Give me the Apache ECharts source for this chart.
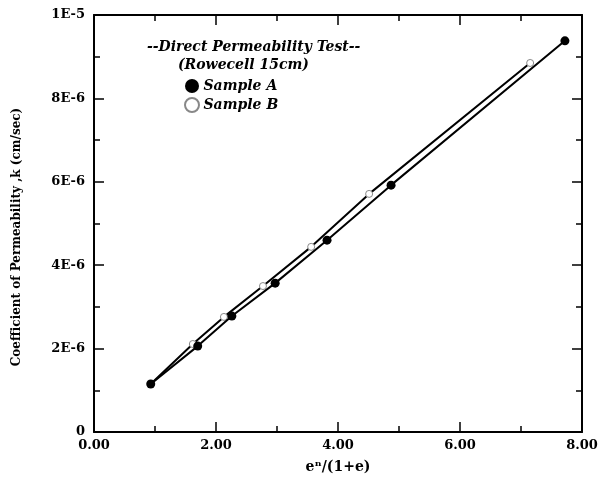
<!DOCTYPE html>
<html>
<head>
<meta charset="utf-8">
<script src="https://cdn.jsdelivr.net/npm/echarts@6/dist/echarts.min.js"></script>
<style>
html,body{margin:0;padding:0;background:#fff;}
#c{width:603px;height:479px;}
</style>
</head>
<body>
<div id="c"></div>
<script>
// x values: e^n/(1+e); y values in units of 1E-6 cm/sec
const xA = [0.93, 1.70, 2.26, 2.97, 3.82, 4.87, 7.72];
const yA = [1.15, 2.06, 2.78, 3.57, 4.60, 5.92, 9.38];
const xB = [0.93, 1.62, 2.13, 2.77, 3.56, 4.51, 7.15];
const yB = [1.15, 2.11, 2.76, 3.50, 4.44, 5.71, 8.85];
const xTickLabels = ['0.00', '2.00', '4.00', '6.00', '8.00'];
const yTickLabels = ['0', '2E-6', '4E-6', '6E-6', '8E-6', '1E-5'];
const legendTitle = ['--Direct Permeability Test--', '(Rowecell 15cm)'];
const seriesNames = ['Sample A', 'Sample B'];
const xName = 'eⁿ/(1+e)';
const yName = 'Coefficient of Permeability ,k (cm/sec)';

const serif = '"DejaVu Serif","Liberation Serif",serif';
const chart = echarts.init(document.getElementById('c'));

function axisCommon(show) {
  return {
    axisLine: {show: true, onZero: false, lineStyle: {color: '#000', width: 2}},
    axisTick: {show: true, inside: true, length: 10, lineStyle: {color: '#000', width: 1.5}},
    minorTick: {show: true, splitNumber: 2, length: 6, lineStyle: {color: '#000', width: 1.5}},
    splitLine: {show: false},
    axisLabel: {show: show}
  };
}

const option = {
  animation: false,
  backgroundColor: '#fff',
  grid: {left: 94, right: 21, top: 15, bottom: 47, containLabel: false},
  xAxis: [
    Object.assign(axisCommon(true), {
      type: 'value', min: 0, max: 8, interval: 2, position: 'bottom',
      name: xName, nameLocation: 'middle', nameGap: 28,
      nameTextStyle: {fontFamily: serif, fontWeight: 'bold', fontSize: 14, color: '#000'},
      axisLabel: {show: true, margin: 7, color: '#000', fontFamily: serif, fontWeight: 'bold', fontSize: 13,
        formatter: v => xTickLabels[Math.round(v / 2)]}
    }),
    Object.assign(axisCommon(false), {type: 'value', min: 0, max: 8, interval: 2, position: 'top'})
  ],
  yAxis: [
    Object.assign(axisCommon(true), {
      type: 'value', min: 0, max: 10, interval: 2, position: 'left',
      axisLabel: {show: true, margin: 9, color: '#000', fontFamily: serif, fontWeight: 'bold', fontSize: 13,
        formatter: v => yTickLabels[Math.round(v / 2)]}
    }),
    Object.assign(axisCommon(false), {type: 'value', min: 0, max: 10, interval: 2, position: 'right'})
  ],
  legend: {
    orient: 'vertical', left: 184, top: 79, itemGap: 4, itemWidth: 15, itemHeight: 14,
    icon: 'circle', padding: 0,
    textStyle: {fontFamily: serif, fontWeight: 'bold', fontStyle: 'italic', fontSize: 14, color: '#000', padding: [0, 0, 0, -1]},
    data: seriesNames
  },
  graphic: [
    {type: 'text', left: 147, top: 40, style: {text: legendTitle[0], font: 'italic bold 14px ' + serif, fill: '#000'}},
    {type: 'text', left: 178, top: 58, style: {text: legendTitle[1], font: 'italic bold 14px ' + serif, fill: '#000'}},
    {type: 'text', x: 17, y: 237, rotation: Math.PI / 2,
      style: {text: yName, font: 'bold 12px ' + serif, fill: '#000', textAlign: 'center', textVerticalAlign: 'middle'}}
  ],
  series: [
    {
      name: seriesNames[1], type: 'line', xAxisIndex: 0, yAxisIndex: 0,
      data: xB.map((x, i) => [x, yB[i]]),
      symbol: 'circle', symbolSize: 7, showSymbol: true,
      lineStyle: {color: '#000', width: 2},
      itemStyle: {color: '#fff', borderColor: '#888', borderWidth: 1},
      z: 2
    },
    {
      name: seriesNames[0], type: 'line', xAxisIndex: 0, yAxisIndex: 0,
      data: xA.map((x, i) => [x, yA[i]]),
      symbol: 'circle', symbolSize: 9, showSymbol: true,
      lineStyle: {color: '#000', width: 2},
      itemStyle: {color: '#000', borderColor: '#000', borderWidth: 0},
      z: 3
    }
  ]
};
chart.setOption(option);
</script>
</body>
</html>
